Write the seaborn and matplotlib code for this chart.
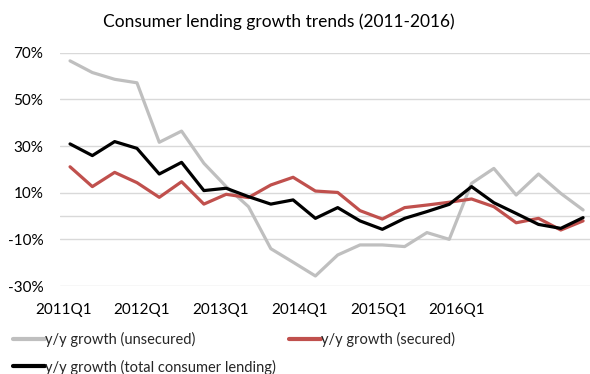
import numpy as np
import pandas as pd
import matplotlib
matplotlib.use("Agg")
import matplotlib.pyplot as plt
import seaborn as sns

quarters = [f"{y}Q{q}" for y in range(2011, 2017) for q in range(1, 5)]
unsecured = [66.5, 61.5, 58.6, 57.1, 31.6, 36.4, 22.6, 12.6, 4.0, -14.0, -19.8, -25.7,
             -16.7, -12.4, -12.4, -13.1, -7.1, -10.0, 14.0, 20.4, 9.0, 18.0, 9.7, 2.6]
secured = [21.1, 12.6, 18.7, 14.3, 8.0, 14.7, 5.1, 9.3, 7.9, 13.3, 16.6, 10.7,
           10.1, 2.3, -1.3, 3.6, 4.7, 5.9, 7.3, 4.0, -2.9, -1.0, -6.0, -2.1]
total = [30.9, 25.9, 31.9, 29.0, 18.0, 23.0, 10.9, 11.9, 8.3, 5.1, 6.9, -1.0,
         3.6, -2.1, -5.7, -1.0, 1.9, 5.0, 12.6, 5.7, 1.1, -3.6, -5.3, -0.7]
tick_labels = ["2011Q1", "2012Q1", "2013Q1", "2014Q1", "2015Q1", "2016Q1"]
y_ticks = [-30, -10, 10, 30, 50, 70]

names = ["y/y growth (unsecured)", "y/y growth (secured)", "y/y growth (total consumer lending)"]
colors = {names[0]: "#bfbfbf", names[1]: "#c0504d", names[2]: "#000000"}

df = pd.DataFrame({
    "idx": np.tile(np.arange(len(quarters)), 3),
    "value": unsecured + secured + total,
    "series": np.repeat(names, len(quarters)),
})

sns.set_theme(style="white")
plt.rcParams["font.family"] = ["Lato", "DejaVu Sans"]

fig = plt.figure(figsize=(5.9, 3.74), dpi=100)
ax = fig.add_axes([60/590, 1-286/374, 530/590, (286-52.7)/374])

for y in y_ticks + [0]:
    ax.axhline(y, color="#d9d9d9", lw=1.0, zorder=0)

sns.lineplot(data=df, x="idx", y="value", hue="series", palette=colors,
             hue_order=names, linewidth=2.3, ax=ax, legend=False)

ax.set_ylim(-30, 70)
ax.set_xlim(-0.45, 23.31)
ax.set_yticks(y_ticks)
ax.set_yticklabels([f"{v}%" for v in y_ticks])
ax.set_xticks(np.linspace(-0.31, 17.35, len(tick_labels)))
ax.set_xticklabels(tick_labels)
ax.tick_params(axis="both", length=0, labelsize=11, colors="#000000")
ax.tick_params(axis="y", pad=12)
ax.tick_params(axis="x", pad=12)
ax.set_xlabel("")
ax.set_ylabel("")
for s in ax.spines.values():
    s.set_visible(False)

fig.text(0.472, 1-22/374, "Consumer lending growth trends (2011-2016)",
         ha="center", va="center", fontsize=12.5, color="#000000")

from matplotlib.lines import Line2D
order = [0, 2, 1]
handles = [Line2D([0], [0], color=colors[names[i]], lw=3) for i in order]
labels = [names[i] for i in order]
fig.legend(handles, labels, ncol=2, loc="upper left",
           bbox_to_anchor=(13/590, 1-332/374), frameon=False, fontsize=10.5,
           handlelength=2.2, handletextpad=0.0, columnspacing=0.9,
           labelspacing=0.85, borderpad=0, borderaxespad=0)

fig.savefig("out.png", dpi=100)
